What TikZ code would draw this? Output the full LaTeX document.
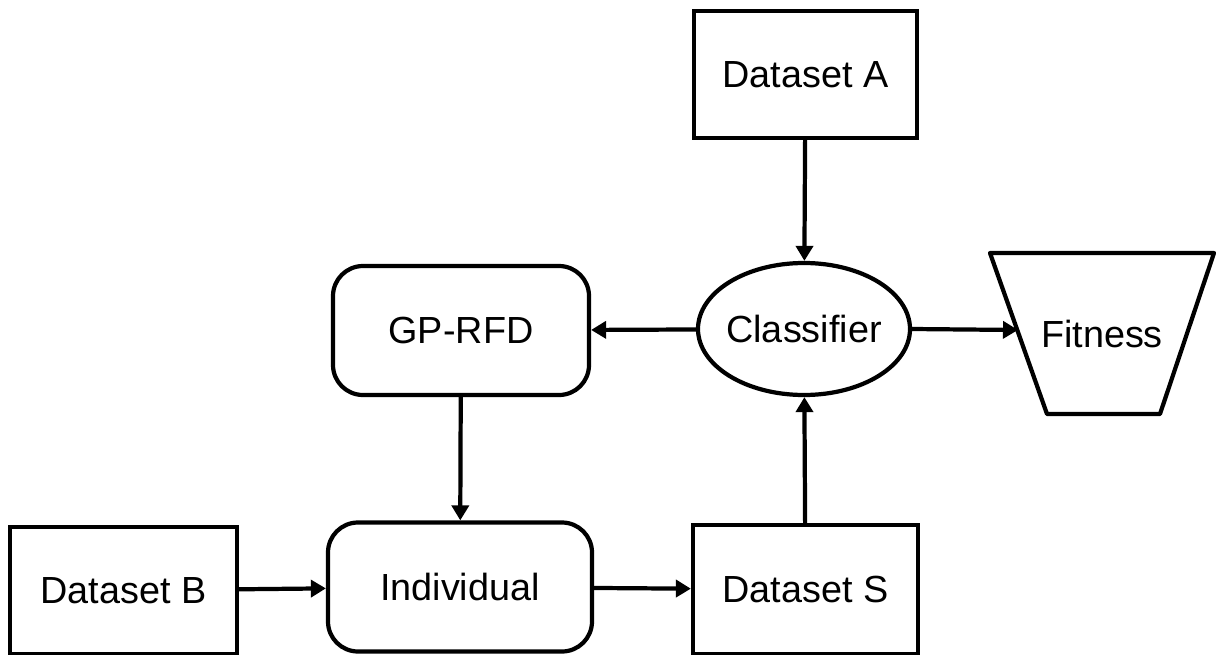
\documentclass[tikz,border=0pt]{standalone}
\usepackage{fontspec}
\setmainfont{Liberation Sans}
\usetikzlibrary{shapes.geometric,arrows.meta}

\begin{document}
\begin{tikzpicture}[
  font=\fontsize{21.5}{26}\selectfont,
  line width=2.4pt,
  databox/.style={draw, rectangle, minimum width=#1, minimum height=2.54cm},
  roundbox/.style={draw, rectangle, rounded corners=0.6cm, minimum width=#1, minimum height=2.58cm},
  flow/.style={-{Triangle[length=0.3cm,width=0.34cm]}}
]
\useasboundingbox (0,0) rectangle (24.32,-13.1);

% Datasets
\node[databox=4.46cm] (dsA) at (16.11,-1.49) {Dataset A};
\node[databox=4.54cm] (dsB) at (2.47,-11.81) {Dataset B};
\node[databox=4.5cm, minimum height=2.58cm] (dsS) at (16.11,-11.79) {Dataset S};

% Process blocks
\node[roundbox=5.12cm] (gp) at (9.22,-6.61) {GP-RFD};
\node[roundbox=5.28cm] (ind) at (9.2,-11.74) {Individual};
\node[draw, ellipse, minimum width=4.24cm, minimum height=2.64cm,
  label=center:Classifier] (clf) at (16.08,-6.58) {};

% Fitness (inverted trapezoid)
\node (fit) at (22.04,-6.67) {Fitness};
\draw[line join=round] (19.8,-5.06) -- (24.28,-5.06) -- (23.2,-8.28) -- (20.94,-8.28) -- cycle;
\coordinate (fitin) at (20.36,-6.6);

% Arrows
\draw[flow] (dsA) -- (clf);
\draw[flow] (clf) -- (gp);
\draw[flow] (clf.east) -- (fitin);
\draw[flow] (gp) -- (ind);
\draw[flow] (dsB) -- (ind);
\draw[flow] (ind) -- (dsS);
\draw[flow] (dsS) -- (clf);
\end{tikzpicture}
\end{document}
